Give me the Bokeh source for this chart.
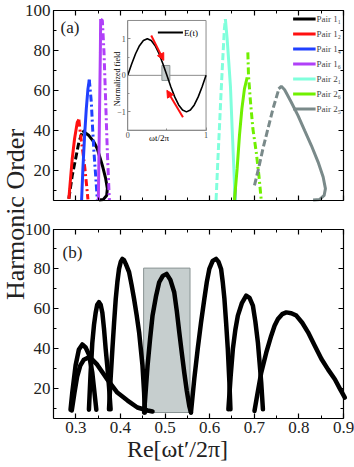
import numpy as np
from bokeh.plotting import figure
from bokeh.models import (Range1d, LinearAxis, SingleIntervalTicker, FixedTicker,
                          Legend, LegendItem, Arrow, NormalHead)
from bokeh.core.properties import value
from bokeh.embed import file_html
from bokeh.resources import INLINE

SERIF = "Liberation Serif"

# ---------------- panel (a) trajectories (Re[wt'/2pi], harmonic order) ----------------
blk_dash_x = [0.2844, 0.292, 0.2995, 0.3069, 0.3146]
blk_dash_y = [5.6, 17.3, 25.6, 34.0, 39.0]
blk_sol_x = [0.3146, 0.3294, 0.3407, 0.3482, 0.3595, 0.367, 0.3707, 0.3692, 0.3617, 0.352]
blk_sol_y = [39.8, 37.3, 34.0, 30.7, 22.3, 15.7, 10.7, 7.3, 5.3, 5.0]

red_sol_x = [0.2844, 0.2882, 0.292, 0.2972, 0.3033, 0.3069]
red_sol_y = [5.6, 15.7, 25.7, 35.7, 44.0, 45.3]
red_dd_x = [0.3069, 0.3107, 0.3159, 0.3204, 0.3242, 0.3272]
red_dd_y = [45.3, 37.3, 29.0, 20.7, 12.3, 5.3]

blu_sol_x = [0.313, 0.3159, 0.3197, 0.3235, 0.3272, 0.3302]
blu_sol_y = [5.0, 20.7, 37.3, 50.7, 60.7, 65.3]
blu_dd_x = [0.3302, 0.3348, 0.3377, 0.3407, 0.3445, 0.3482]
blu_dd_y = [65.3, 54.0, 40.7, 29.0, 17.3, 5.0]
blu_tail_x = [0.6565, 0.6575]
blu_tail_y = [5.0, 13.2]

pur_sol_x = [0.3505, 0.352, 0.3535, 0.355, 0.3557]
pur_sol_y = [5.0, 29.0, 54.0, 79.0, 95.7]
pur_dd_x = [0.3557, 0.3595, 0.3632, 0.367, 0.3707, 0.3752]
pur_dd_y = [95.7, 95.0, 79.0, 54.0, 29.0, 5.0]

cyn_dash_x = [0.6144, 0.6182, 0.6218, 0.6256, 0.6294, 0.633, 0.6353]
cyn_dash_y = [5.0, 24.0, 40.7, 59.0, 75.7, 90.7, 95.7]
cyn_sol_x = [0.6353, 0.6391, 0.6429, 0.6466, 0.6504, 0.6542, 0.6571]
cyn_sol_y = [95.7, 86.0, 74.0, 62.0, 41.0, 21.0, 5.0]

grn_sol_x = [0.6556, 0.6616, 0.6668, 0.6722, 0.678, 0.6841]
grn_sol_y = [5.0, 20.7, 37.3, 50.7, 60.7, 66.5]
grn_dd_x = [0.6856, 0.6871, 0.6916, 0.6969, 0.7044, 0.7104, 0.7156]
grn_dd_y = [79.0, 67.3, 54.0, 40.7, 29.0, 17.3, 5.0]

gry_dash_x = [0.7005, 0.7095, 0.7194, 0.7306, 0.7419, 0.7546]
gry_dash_y = [12.3, 20.7, 30.7, 40.7, 50.7, 60.3]
gry_sol_x = [0.7546, 0.7606, 0.768, 0.783, 0.7981, 0.813, 0.828, 0.8431, 0.8544, 0.8595, 0.8566, 0.8467, 0.8319]
gry_sol_y = [60.7, 62.0, 60.3, 54.0, 47.3, 39.8, 32.3, 24.0, 16.5, 10.7, 7.3, 5.3, 5.0]

legend_labels = ["Pair 1\u2081", "Pair 1\u2082", "Pair 1\u2084", "Pair 1\u2086",
                 "Pair 2\u2081", "Pair 2\u2086", "Pair 2\u2085"]

# ---------------- inset: normalized field E(t) ----------------
et_x = [0, 0.05, 0.1, 0.15, 0.2, 0.25, 0.3, 0.35, 0.4, 0.45, 0.5,
        0.55, 0.6, 0.65, 0.7, 0.75, 0.8, 0.85, 0.9, 0.95, 1.0]
et_y = [0, 0.31, 0.59, 0.81, 0.95, 1.0, 0.95, 0.81, 0.59, 0.31, 0,
        -0.31, -0.59, -0.81, -0.95, -1.0, -0.95, -0.81, -0.59, -0.31, 0]
inset_rect = dict(left=[0.436], right=[0.538], bottom=[-0.14], top=[0.27])
arrow_x0 = [0.30, 0.705]
arrow_y0 = [1.09, -1.145]
arrow_x1 = [0.46, 0.50]
arrow_y1 = [0.41, -0.41]
inset_yticks = [-1, 0, 1]
inset_xticks = [0, 1]

# ---------------- panel (b) ----------------
b1_x = [0.2882, 0.2921, 0.2995, 0.3069, 0.3146, 0.322, 0.3294, 0.337, 0.3406, 0.346]
b1_y = [9.4, 18.0, 31.6, 39.6, 42.1, 40.6, 37.1, 28.0, 20.5, 9.4]
bw1_x = [0.291, 0.297, 0.303, 0.31, 0.318, 0.327, 0.337, 0.348, 0.36, 0.371, 0.393, 0.416, 0.438, 0.461, 0.472]
bw1_y = [9, 18, 26, 31.5, 34.5, 35.5, 34.5, 32, 28, 24.5, 18, 14, 10.5, 9, 8.5]
b2_x = [0.3294, 0.333, 0.337, 0.3408, 0.3445, 0.348, 0.3519, 0.3557, 0.3595, 0.3632, 0.367, 0.3707, 0.3744, 0.378]
b2_y = [9.4, 27, 43, 52, 58, 62, 63.3, 62, 58, 50, 39.8, 31, 21, 9.6]
b3_x = [0.3744, 0.378, 0.382, 0.3858, 0.3895, 0.3932, 0.3969, 0.4007, 0.4045, 0.4083, 0.412, 0.4194,
        0.425, 0.4306, 0.4363, 0.4419, 0.4495, 0.4531, 0.4547]
b3_y = [9.6, 25, 39.8, 53, 64.9, 73.5, 80, 83.5, 85, 84.3, 82.5, 78.4, 72, 64.9, 57, 48.2, 31.4, 18, 8]
b4_x = [0.4531, 0.4608, 0.4665, 0.472, 0.4795, 0.4869, 0.495, 0.5035, 0.512, 0.5206, 0.5263, 0.5319,
        0.5375, 0.5431, 0.5487, 0.5543, 0.5581]
b4_y = [8, 31.4, 45, 56.6, 66, 73.3, 76.5, 77.5, 74.5, 68.3, 59, 48.2, 38, 28, 19, 11.3, 8]
b5_x = [0.5581, 0.5656, 0.5732, 0.5806, 0.5881, 0.5937, 0.5993, 0.6068, 0.6144, 0.62, 0.6256, 0.6293,
        0.6331, 0.6369, 0.6407, 0.6443, 0.6466]
b5_y = [8, 25, 39.8, 53, 65, 73.5, 80, 84, 85, 83.5, 80, 73.5, 65, 53, 39.8, 23, 9.6]
b6_x = [0.642, 0.647, 0.652, 0.6576, 0.6632, 0.6725, 0.6819, 0.6894, 0.6969, 0.7025, 0.7082, 0.7119, 0.7156, 0.7194]
b6_y = [9.6, 26, 39.8, 49.5, 56.6, 63, 66.6, 65.5, 61.6, 53.5, 43, 33, 23, 9.6]
bw2_x = [0.7005, 0.708, 0.7156, 0.7268, 0.738, 0.7455, 0.7531, 0.7625, 0.7718, 0.783, 0.7943, 0.8075,
         0.8206, 0.8356, 0.8506, 0.8656, 0.8806, 0.8918, 0.903]
bw2_y = [8.8, 18.5, 28, 38, 46.5, 51.5, 54.9, 57.3, 58.2, 57.8, 56.6, 53, 48.2, 41.5, 34.8, 29.5, 24.7, 20, 15.5]
box_b = dict(left=[0.452], right=[0.556], bottom=[8], top=[80.4])

X_RANGE = (0.25, 0.9)
Y_RANGE = (5, 100)

# ---------------- geometry: both panels share one frame ----------------
CW, CH = 354, 467         # canvas
FW = float(CW)            # frame width (px)
FH = 418.0                # frame height (px)
PAD_L, PAD_R = 53.0, 11.0 # room left of / right of the panels inside the frame
PAD_T = 10.0              # room above panel (a)
GAP = 29.0
PANEL_H = (FH - PAD_T - GAP) / 2
PB = (0.0, PANEL_H)
PA = (PANEL_H + GAP, 2 * PANEL_H + GAP)

ppu = (FW - PAD_L - PAD_R) / (X_RANGE[1] - X_RANGE[0])
X_MAIN = (X_RANGE[0] - PAD_L / ppu, X_RANGE[1] + PAD_R / ppu)
Y_MAIN = (0.0, FH)


def named_range(d0, d1, m0, m1, total=Y_MAIN[1]):
    s = (d1 - d0) / (m1 - m0)
    return Range1d(d0 - m0 * s, d0 + (total - m0) * s)


p = figure(width=CW, height=CH, x_range=Range1d(*X_MAIN), y_range=Range1d(*Y_MAIN),
           toolbar_location=None, output_backend="svg", x_axis_location=None,
           y_axis_location=None, min_border_left=0, min_border_right=0,
           min_border_top=0, min_border_bottom=int(CH - FH), outline_line_color=None,
           background_fill_color="white")
p.grid.visible = False
p.extra_y_ranges = {"a": named_range(Y_RANGE[0], Y_RANGE[1], *PA),
                    "b": named_range(Y_RANGE[0], Y_RANGE[1], *PB)}
p.extra_x_ranges = {"px": Range1d(0, FW)}


def axis_kw(labels):
    kw = dict(major_tick_in=5, major_tick_out=0, minor_tick_in=3, minor_tick_out=0,
              axis_line_color="black", axis_line_width=1.2, major_tick_line_width=1.2,
              minor_tick_line_width=1)
    if labels:
        kw.update(major_label_text_font=SERIF, major_label_text_font_size="17px",
                  major_label_text_color="#222222", major_label_standoff=3)
    else:
        kw.update(major_label_text_color=None, major_label_text_font_size="1px",
                  major_label_standoff=0)
    return kw


def xt():
    return SingleIntervalTicker(interval=0.1, num_minor_ticks=2)


def yt():
    return SingleIntervalTicker(interval=20, num_minor_ticks=2)


for rn in ("a", "b"):
    p.add_layout(LinearAxis(y_range_name=rn, fixed_location=X_RANGE[0], bounds=Y_RANGE,
                            ticker=yt(), **axis_kw(True)), "left")
    p.add_layout(LinearAxis(y_range_name=rn, fixed_location=X_RANGE[1], bounds=Y_RANGE,
                            ticker=yt(), **axis_kw(False)), "right")
    p.add_layout(LinearAxis(y_range_name=rn, fixed_location=Y_RANGE[1], bounds=X_RANGE,
                            ticker=xt(), **axis_kw(False)), "above")
p.add_layout(LinearAxis(y_range_name="a", fixed_location=Y_RANGE[0], bounds=X_RANGE,
                        ticker=xt(), **axis_kw(False)), "below")
xb = LinearAxis(ticker=xt(), bounds=X_RANGE, **axis_kw(True))
xb.axis_label = "Re[\u03c9t\u2032/2\u03c0]"
xb.axis_label_text_font = SERIF
xb.axis_label_text_font_size = "24px"
xb.axis_label_text_font_style = "normal"
xb.axis_label_text_color = "#222222"
xb.axis_label_standoff = 0
p.add_layout(xb, "below")

# shared y label
p.text(x=[15], y=[(PB[0] + PA[1]) / 2], text=["Harmonic Order"], text_font=value(SERIF),
       text_font_size="26px", text_align="center", text_baseline="middle",
       angle=np.pi / 2, text_color="#222222", x_range_name="px")

# ================= panel (a) =================
A = dict(y_range_name="a")
W = 3
DASH = "7 3"
DASHDOT = "7 3 2 3"
p.line(blk_dash_x, blk_dash_y, line_color="black", line_width=W, line_dash=DASH, **A)
r_blk = p.line(blk_sol_x, blk_sol_y, line_color="black", line_width=W, **A)
r_red = p.line(red_sol_x, red_sol_y, line_color="#ff1010", line_width=W, **A)
p.line(red_dd_x, red_dd_y, line_color="#ff1010", line_width=W, line_dash=DASHDOT, **A)
r_blu = p.line(blu_sol_x, blu_sol_y, line_color="#2040ff", line_width=W, **A)
p.line(blu_dd_x, blu_dd_y, line_color="#2040ff", line_width=W, line_dash=DASHDOT, **A)
p.line(blu_tail_x, blu_tail_y, line_color="#2040ff", line_width=W, **A)
r_pur = p.line(pur_sol_x, pur_sol_y, line_color="#b040f8", line_width=W, **A)
p.line(pur_dd_x, pur_dd_y, line_color="#b040f8", line_width=W, line_dash=DASHDOT, **A)
p.line(cyn_dash_x, cyn_dash_y, line_color="#80ffdc", line_width=W, line_dash=DASH, **A)
r_cyn = p.line(cyn_sol_x, cyn_sol_y, line_color="#80ffdc", line_width=W, **A)
r_grn = p.line(grn_sol_x, grn_sol_y, line_color="#70f000", line_width=W, **A)
p.line(grn_dd_x, grn_dd_y, line_color="#70f000", line_width=W, line_dash=DASHDOT, **A)
p.line(gry_dash_x, gry_dash_y, line_color="#7a8a8a", line_width=W, line_dash=DASH, **A)
r_gry = p.line(gry_sol_x, gry_sol_y, line_color="#7a8a8a", line_width=W, **A)

legend = Legend(items=[LegendItem(label=l, renderers=[r]) for l, r in
                       zip(legend_labels, [r_blk, r_red, r_blu, r_pur, r_cyn, r_grn, r_gry])],
                location="top_right", margin=13, padding=0, spacing=4, glyph_width=23,
                glyph_height=11, label_height=11, label_standoff=1,
                label_text_font=SERIF, label_text_font_size="9px",
                background_fill_alpha=0, border_line_color=None)
p.add_layout(legend)

p.text(x=[0.2657], y=[91.5], text=["(a)"], text_font=value(SERIF), text_font_size="17px",
       text_align="left", text_baseline="middle", text_color="#222222", **A)

# ---- inset (own ranges mapped onto a sub-box of panel a) ----
IX0, IX1 = 0.4164, 0.5919     # inset box in panel-a x units
IY0, IY1 = 40.0, 95.0         # inset box in panel-a y units
IXR = (0.0, 1.0)
IYR = (-1.5, 1.5)


def a_to_main(y):
    return PA[0] + (y - Y_RANGE[0]) / (Y_RANGE[1] - Y_RANGE[0]) * (PA[1] - PA[0])


sx = (IXR[1] - IXR[0]) / (IX1 - IX0)
p.extra_x_ranges["ix"] = Range1d(IXR[0] + (X_MAIN[0] - IX0) * sx, IXR[0] + (X_MAIN[1] - IX0) * sx)
p.extra_y_ranges["iy"] = named_range(IYR[0], IYR[1], a_to_main(IY0), a_to_main(IY1))
kw = dict(x_range_name="ix", y_range_name="iy")

p.quad(left=[IXR[0]], right=[IXR[1]], bottom=[IYR[0]], top=[IYR[1]], fill_color="white",
       line_color="#8c8c8c", line_width=1, **kw)
p.line([IXR[0], IXR[1]], [0, 0], line_color="#8c8c8c", line_width=1, **kw)
p.quad(fill_color="#c4cccc", line_color="#8a9494", line_width=1, **inset_rect, **kw)
p.line(et_x, et_y, line_color="black", line_width=1.6, **kw)
p.line([0.385, 0.705], [1.17, 1.17], line_color="black", line_width=2, **kw)
p.text(x=[0.72], y=[1.17], text=["E(t)"], text_font=value(SERIF), text_font_size="9px",
       text_align="left", text_baseline="middle", **kw)
for xs, ys, xe, ye in zip(arrow_x0, arrow_y0, arrow_x1, arrow_y1):
    p.add_layout(Arrow(end=NormalHead(size=7, fill_color="#ff1010", line_color="#ff1010"),
                       x_start=xs, y_start=ys, x_end=xe, y_end=ye, line_color="#ff1010",
                       line_width=2, **kw))

ikw = dict(major_tick_in=3, major_tick_out=0, minor_tick_in=2, minor_tick_out=0,
           axis_line_color="#8c8c8c", major_tick_line_color="#8c8c8c",
           minor_tick_line_color="#8c8c8c", major_label_text_font=SERIF,
           major_label_text_font_size="8px", major_label_standoff=2)
p.add_layout(LinearAxis(ticker=FixedTicker(ticks=inset_yticks, minor_ticks=[-0.5, 0.5]),
                        fixed_location=IXR[0], bounds=IYR, **ikw, **kw), "left")
p.add_layout(LinearAxis(ticker=FixedTicker(ticks=inset_xticks, minor_ticks=[0.5]),
                        fixed_location=IYR[0], bounds=IXR, **ikw, **kw), "below")
p.text(x=[0.4], y=[IYR[0]], text=["\u03c9t/2\u03c0"], text_font=value(SERIF),
       text_font_size="9px", text_align="center", text_baseline="top", y_offset=3, **kw)
p.text(x=[-0.13], y=[-0.1], text=["Normalized field"], text_font=value(SERIF),
       text_font_size="8px", text_align="center", text_baseline="middle", angle=np.pi / 2, **kw)

# ================= panel (b) =================
B = dict(y_range_name="b")
p.quad(fill_color="#c6cece", line_color="#8a9494", line_width=1, **box_b, **B)
BW = 4.5
for xs, ys in ((b1_x, b1_y), (bw1_x, bw1_y), (b2_x, b2_y), (b3_x, b3_y), (b4_x, b4_y),
               (b5_x, b5_y), (b6_x, b6_y), (bw2_x, bw2_y)):
    p.line(xs, ys, line_color="black", line_width=BW, line_join="round", line_cap="round", **B)

p.text(x=[0.2702], y=[88.4], text=["(b)"], text_font=value(SERIF), text_font_size="17px",
       text_align="left", text_baseline="middle", text_color="#222222", **B)

open("out.html", "w").write(file_html(p, INLINE))
